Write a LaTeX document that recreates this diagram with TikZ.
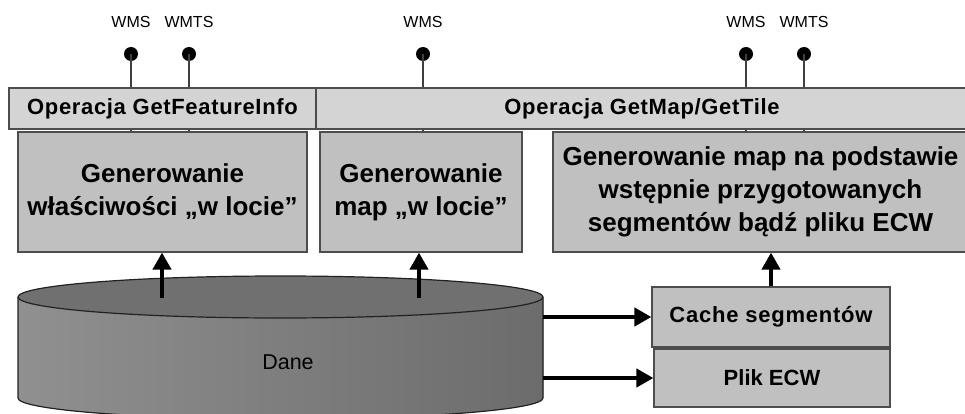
\documentclass[tikz,border=0pt]{standalone}
\usepackage{fontspec}
\setmainfont{Liberation Sans}
\newfontfamily\barfont[LetterSpace=3]{Liberation Sans}
\newfontfamily\smallboxfont[LetterSpace=3.5]{Liberation Sans}
\usetikzlibrary{arrows.meta}

\definecolor{edge}{HTML}{4D4D4D}
\definecolor{barfill}{HTML}{D4D4D4}
\definecolor{boxfill}{HTML}{C0C0C0}
\definecolor{pinline}{HTML}{404040}
\definecolor{cylL}{HTML}{909090}
\definecolor{cylM}{HTML}{868686}
\definecolor{cylR}{HTML}{6C6C6C}
\definecolor{cyltop}{HTML}{707070}
\definecolor{cyledge}{HTML}{222222}

\tikzset{
  bar/.style={draw=edge, fill=barfill, line width=1.2pt, inner sep=0pt,
    minimum height=41pt, font=\barfont\bfseries\fontsize{22}{26}\selectfont},
  genbox/.style={draw=edge, fill=boxfill, line width=1.2pt, inner sep=0pt,
    minimum height=120pt, align=center,
    font=\bfseries\fontsize{26}{33}\selectfont},
  srcbox/.style={draw=edge, fill=boxfill, line width=1.2pt, inner sep=0pt,
    font=\bfseries\fontsize{22}{26}\selectfont},
  pin/.style={draw=pinline, line width=1.3pt},
  pindot/.style={circle, fill=black, inner sep=0pt, minimum size=14pt},
  svc/.style={font=\fontsize{16}{19}\selectfont, inner sep=0pt},
  flow/.style={line width=4pt, -{Triangle[width=18pt,length=17pt]}}
}

\begin{document}
\begin{tikzpicture}[x=1pt, y=-1pt]
\useasboundingbox (0,0) rectangle (965,414);

% service endpoints
\foreach \n/\x/\t in {p1/131/WMS, p2/189/WMTS, p3/423/WMS, p4/746/WMS, p5/804/WMTS}{
  \node[pindot] (\n) at (\x,54) {};
  \node[svc] (\n-lbl) at (\x,22) {\t};
}

% processing boxes
\node[genbox, minimum width=289pt] (genA) at (162.5,192)
  {Generowanie\\właściwości „w locie”};
\node[genbox, minimum width=202pt] (genB) at (421,192)
  {Generowanie\\map „w locie”};
\node[genbox, minimum width=415pt] (genC) at (760.5,192)
  {Generowanie map na podstawie\\wstępnie przygotowanych\\segmentów bądź pliku ECW};

% pin stems run down to the box tops, bars cover the middle part
\foreach \n/\b in {p1/genA, p2/genA, p3/genB, p4/genC, p5/genC}{
  \draw[pin] (\n.center) -- (\n.center |- \b.north);
}

% operation bars
\node[bar, minimum width=307pt] (opA) at (162.5,108.5) {Operacja GetFeatureInfo};
\node[bar, minimum width=652pt] (opB) at (642,108.5) {Operacja GetMap/GetTile};

% data store
\fill[left color=cylL, middle color=cylM, right color=cylR]
  (18,297) -- (18,398) arc[start angle=180, end angle=0, x radius=262.5, y radius=21]
  -- (543,297) -- cycle;
\draw[cyledge, line width=1.2pt]
  (18,297) -- (18,398) arc[start angle=180, end angle=0, x radius=262.5, y radius=21]
  -- (543,297);
\draw[cyledge, line width=1.2pt, fill=cyltop] (280.5,297) ellipse[x radius=262.5, y radius=21];
\node[font=\fontsize{21.5}{25}\selectfont] (dane) at (288,362) {Dane};

% tile cache and ECW file
\node[srcbox, minimum width=238pt, minimum height=60pt, font=\smallboxfont\bfseries\fontsize{22}{26}\selectfont] (cache) at (771,317) {Cache segmentów};
\node[srcbox, minimum width=236pt, minimum height=58pt] (ecw) at (772,378) {Plik ECW};

% flows
\coordinate (upA) at (162,298);
\coordinate (upB) at (419,298);
\coordinate (outA) at (543,317);
\coordinate (outB) at (543,378);
\draw[flow] (upA) -- (upA |- genA.south);
\draw[flow] (upB) -- (upB |- genB.south);
\draw[flow] (outA) -- (cache.west);
\draw[flow] (outB) -- (ecw.west);
\draw[flow] (cache.north) -- (cache.north |- genC.south);
\end{tikzpicture}
\end{document}
